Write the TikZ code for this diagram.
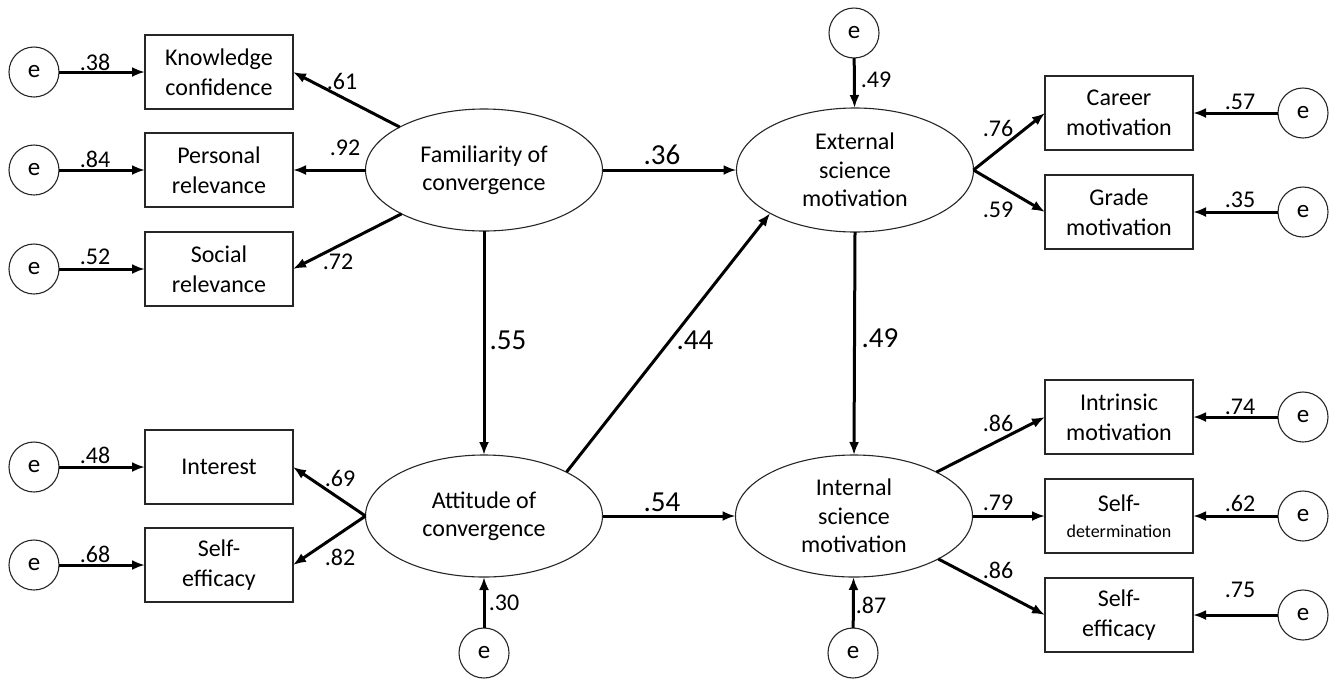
\documentclass[tikz,border=0pt]{standalone}
\usepackage{fontspec}
\setmainfont{Carlito}
\usetikzlibrary{arrows.meta,shapes.geometric}

\begin{document}
\begin{tikzpicture}[
    x=1pt, y=-1pt,
    >={Latex[length=13pt,width=10pt]},
    flow/.style={->, line width=3pt, draw=black},
    item/.style={
        draw=black!85,
        line width=1.1pt,
        minimum width=148pt,
        minimum height=74pt,
        align=center,
        inner sep=0pt,
        outer sep=0pt,
        font=\fontsize{24}{30}\selectfont
    },
    factor/.style={
        ellipse,
        draw=black!85,
        line width=1.1pt,
        minimum width=237pt,
        minimum height=122pt,
        align=center,
        inner sep=0pt,
        outer sep=0pt,
        font=\fontsize{24}{28.5}\selectfont
    },
    err/.style={circle, draw=black!85, line width=1.1pt, minimum size=50pt, inner sep=0pt, outer sep=0pt, font=\fontsize{25}{28}\selectfont},
    coef/.style={font=\fontsize{24}{28}\selectfont, inner sep=0pt},
    bigcoef/.style={font=\fontsize{29}{34}\selectfont, inner sep=0pt}
]
\useasboundingbox (0,0) rectangle (1340,681);

% latent factors
\node[factor] (fam) at (484,170) {Familiarity of\\convergence};
\node[factor] (att) at (484,516) {Attitude of\\convergence};
\node[factor, minimum height=124pt] (ext) at (855,170) {External\\science\\motivation};
\node[factor, minimum height=122pt] (int) at (854,516) {Internal\\science\\motivation};

% left indicators
\node[item] (know) at (219,72) {Knowledge\\confidence};
\node[item] (pers) at (219,170) {Personal\\relevance};
\node[item] (soc) at (219,269) {Social\\relevance};
\node[item] (intr) at (219,467) {Interest};
\node[item] (seff) at (219,565) {Self-\\efficacy};

% right indicators
\node[item] (car) at (1119,113) {Career\\motivation};
\node[item] (gra) at (1119,212) {Grade\\motivation};
\node[item] (imot) at (1119,417) {Intrinsic\\motivation};
\node[item] (sdet) at (1119,516) {Self-\\[-4pt]{\fontsize{18}{22}\selectfont determination}};
\node[item] (seff2) at (1119,615) {Self-\\efficacy};

% error terms
\node[err] (eknow) at (34,72) {e};
\node[err] (epers) at (34,170) {e};
\node[err] (esoc) at (34,269) {e};
\node[err] (eintr) at (34,467) {e};
\node[err] (eseff) at (34,565) {e};
\node[err] (ecar) at (1303,113) {e};
\node[err] (egra) at (1303,212) {e};
\node[err] (eimot) at (1303,417) {e};
\node[err] (esdet) at (1303,516) {e};
\node[err] (eseff2) at (1303,615) {e};
\node[err] (eext) at (854,33) {e};
\node[err] (eatt) at (484,653) {e};
\node[err] (eint) at (853,653) {e};

% error arrows
\draw[flow] (eknow) -- (know);
\draw[flow] (epers) -- (pers);
\draw[flow] (esoc) -- (soc);
\draw[flow] (eintr) -- (intr);
\draw[flow] (eseff) -- (seff);
\draw[flow] (ecar) -- (car);
\draw[flow] (egra) -- (gra);
\draw[flow] (eimot) -- (imot);
\draw[flow] (esdet) -- (sdet);
\draw[flow] (eseff2) -- (seff2);
\draw[flow] (eext) -- (ext);
\draw[flow] (eatt) -- (att);
\draw[flow] (eint) -- (int);

% loadings
\draw[flow] (fam.153) -- (know.east);
\draw[flow] (fam.west) -- (pers.east);
\draw[flow] (fam.208) -- (soc.east);
\draw[flow] (att.west) -- (intr.east);
\draw[flow] (att.west) -- (seff.east);
\draw[flow] (ext.east) -- (car.west);
\draw[flow] (ext.east) -- (gra.west);
\draw[flow] (int.28) -- (imot.west);
\draw[flow] (int.east) -- (sdet.west);
\draw[flow] (int.333) -- (seff2.west);

% structural paths
\draw[flow] (fam.east) -- (ext.west);
\draw[flow] (att.east) -- (int.west);
\draw[flow] (fam.south) -- (att.north);
\draw[flow] (ext.south) -- (int.north);
\draw[flow] (att.28) -- (ext.207);

% coefficients
\node[coef] (c38) at (95,62) {.38};
\node[coef] (c84) at (95,159) {.84};
\node[coef] (c52) at (95,257) {.52};
\node[coef] (c48) at (95,455) {.48};
\node[coef] (c68) at (95,554) {.68};
\node[coef] (c61) at (342,81) {.61};
\node[coef] (c92) at (345,148) {.92};
\node[coef] (c72) at (338,262) {.72};
\node[coef] (c69) at (340,478) {.69};
\node[coef] (c82) at (340,557) {.82};
\node[coef] (c49a) at (876,80) {.49};
\node[coef] (c30) at (504,603) {.30};
\node[coef] (c87) at (871,605) {.87};
\node[coef] (c76) at (998,128) {.76};
\node[coef] (c59) at (998,210) {.59};
\node[coef] (c57) at (1240,102) {.57};
\node[coef] (c35) at (1240,200) {.35};
\node[coef] (c86a) at (998,423) {.86};
\node[coef] (c79) at (998,503) {.79};
\node[coef] (c86b) at (998,570) {.86};
\node[coef] (c74) at (1240,407) {.74};
\node[coef] (c62) at (1240,503) {.62};
\node[coef] (c75) at (1240,590) {.75};
\node[bigcoef] (c36) at (662,155) {.36};
\node[bigcoef] (c55) at (508,340) {.55};
\node[bigcoef] (c44) at (695,340) {.44};
\node[bigcoef] (c54) at (662,502) {.54};
\node[bigcoef] (c49b) at (880,338) {.49};
\end{tikzpicture}
\end{document}
